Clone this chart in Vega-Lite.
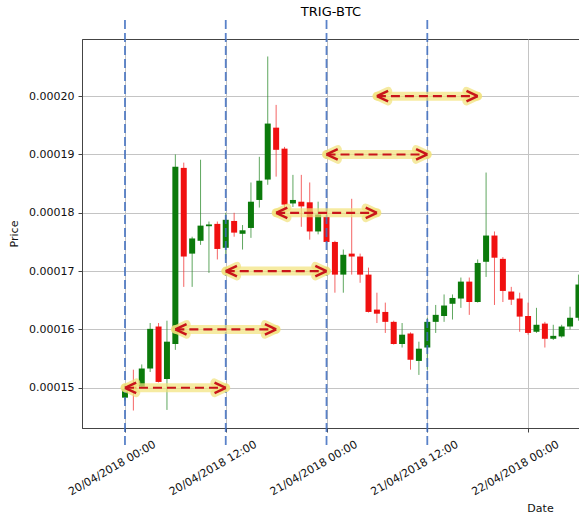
{
  "$schema": "https://vega.github.io/schema/vega-lite/v6.json",
  "width": 498,
  "height": 389,
  "autosize": "none",
  "padding": {"left": 82, "top": 39, "right": -1, "bottom": 89},
  "background": "white",
  "title": {"text": "TRIG-BTC", "fontSize": 13, "fontWeight": "normal", "font": "DejaVu Sans", "color": "#000000", "offset": 0, "anchor": "middle", "frame": "group"},
  "config": {
    "view": {"stroke": "#444444", "strokeWidth": 1},
    "font": "DejaVu Sans",
    "axis": {
      "labelFont": "DejaVu Sans", "titleFont": "DejaVu Sans",
      "labelFontSize": 11, "titleFontSize": 11, "titleFontWeight": "normal",
      "labelColor": "#111111", "titleColor": "#111111",
      "domainColor": "#444444", "tickColor": "#444444", "tickSize": 4,
      "gridColor": "#c4c4c4", "gridWidth": 1
    }
  },
  "datasets": {
    "candles": [
      {"t": "2018-04-20 00:00", "open": 0.0001483, "high": 0.0001500, "low": 0.0001478, "close": 0.0001498},
      {"t": "2018-04-20 01:00", "open": 0.0001502, "high": 0.0001531, "low": 0.0001461, "close": 0.0001498},
      {"t": "2018-04-20 02:00", "open": 0.0001502, "high": 0.0001540, "low": 0.0001500, "close": 0.0001533},
      {"t": "2018-04-20 03:00", "open": 0.0001533, "high": 0.0001611, "low": 0.0001527, "close": 0.0001601},
      {"t": "2018-04-20 04:00", "open": 0.0001605, "high": 0.0001611, "low": 0.0001509, "close": 0.0001510},
      {"t": "2018-04-20 05:00", "open": 0.0001515, "high": 0.0001615, "low": 0.0001462, "close": 0.0001579},
      {"t": "2018-04-20 06:00", "open": 0.0001575, "high": 0.0001900, "low": 0.0001565, "close": 0.0001879},
      {"t": "2018-04-20 07:00", "open": 0.0001877, "high": 0.0001886, "low": 0.0001673, "close": 0.0001725},
      {"t": "2018-04-20 08:00", "open": 0.0001730, "high": 0.0001759, "low": 0.0001673, "close": 0.0001756},
      {"t": "2018-04-20 09:00", "open": 0.0001752, "high": 0.0001891, "low": 0.0001745, "close": 0.0001778},
      {"t": "2018-04-20 10:00", "open": 0.0001777, "high": 0.0001785, "low": 0.0001697, "close": 0.0001780},
      {"t": "2018-04-20 11:00", "open": 0.0001781, "high": 0.0001785, "low": 0.0001720, "close": 0.0001738},
      {"t": "2018-04-20 12:00", "open": 0.0001740, "high": 0.0001800, "low": 0.0001720, "close": 0.0001788},
      {"t": "2018-04-20 13:00", "open": 0.0001786, "high": 0.0001800, "low": 0.0001759, "close": 0.0001766},
      {"t": "2018-04-20 14:00", "open": 0.0001764, "high": 0.0001779, "low": 0.0001737, "close": 0.0001770},
      {"t": "2018-04-20 15:00", "open": 0.0001774, "high": 0.0001852, "low": 0.0001757, "close": 0.0001819},
      {"t": "2018-04-20 16:00", "open": 0.0001822, "high": 0.0001896, "low": 0.0001809, "close": 0.0001855},
      {"t": "2018-04-20 17:00", "open": 0.0001857, "high": 0.0002068, "low": 0.0001848, "close": 0.0001953},
      {"t": "2018-04-20 18:00", "open": 0.0001946, "high": 0.0001985, "low": 0.0001862, "close": 0.0001908},
      {"t": "2018-04-20 19:00", "open": 0.0001910, "high": 0.0001913, "low": 0.0001806, "close": 0.0001814},
      {"t": "2018-04-20 20:00", "open": 0.0001816, "high": 0.0001865, "low": 0.0001810, "close": 0.0001822},
      {"t": "2018-04-20 21:00", "open": 0.0001819, "high": 0.0001865, "low": 0.0001776, "close": 0.0001811},
      {"t": "2018-04-20 22:00", "open": 0.0001818, "high": 0.0001852, "low": 0.0001754, "close": 0.0001768},
      {"t": "2018-04-20 23:00", "open": 0.0001768, "high": 0.0001819, "low": 0.0001763, "close": 0.0001797},
      {"t": "2018-04-21 00:00", "open": 0.0001793, "high": 0.0001805, "low": 0.0001749, "close": 0.0001750},
      {"t": "2018-04-21 01:00", "open": 0.0001750, "high": 0.0001752, "low": 0.0001663, "close": 0.0001694},
      {"t": "2018-04-21 02:00", "open": 0.0001694, "high": 0.0001737, "low": 0.0001663, "close": 0.0001728},
      {"t": "2018-04-21 03:00", "open": 0.0001730, "high": 0.0001824, "low": 0.0001694, "close": 0.0001725},
      {"t": "2018-04-21 04:00", "open": 0.0001725, "high": 0.0001730, "low": 0.0001680, "close": 0.0001694},
      {"t": "2018-04-21 05:00", "open": 0.0001694, "high": 0.0001706, "low": 0.0001629, "close": 0.0001630},
      {"t": "2018-04-21 06:00", "open": 0.0001634, "high": 0.0001663, "low": 0.0001611, "close": 0.0001627},
      {"t": "2018-04-21 07:00", "open": 0.0001630, "high": 0.0001646, "low": 0.0001594, "close": 0.0001613},
      {"t": "2018-04-21 08:00", "open": 0.0001613, "high": 0.0001615, "low": 0.0001574, "close": 0.0001575},
      {"t": "2018-04-21 09:00", "open": 0.0001575, "high": 0.0001611, "low": 0.0001569, "close": 0.0001591},
      {"t": "2018-04-21 10:00", "open": 0.0001593, "high": 0.0001595, "low": 0.0001531, "close": 0.0001548},
      {"t": "2018-04-21 11:00", "open": 0.0001546, "high": 0.0001579, "low": 0.0001522, "close": 0.0001567},
      {"t": "2018-04-21 12:00", "open": 0.0001569, "high": 0.0001620, "low": 0.0001531, "close": 0.0001613},
      {"t": "2018-04-21 13:00", "open": 0.0001613, "high": 0.0001642, "low": 0.0001594, "close": 0.0001625},
      {"t": "2018-04-21 14:00", "open": 0.0001623, "high": 0.0001660, "low": 0.0001613, "close": 0.0001641},
      {"t": "2018-04-21 15:00", "open": 0.0001644, "high": 0.0001660, "low": 0.0001617, "close": 0.0001654},
      {"t": "2018-04-21 16:00", "open": 0.0001653, "high": 0.0001689, "low": 0.0001637, "close": 0.0001682},
      {"t": "2018-04-21 17:00", "open": 0.0001682, "high": 0.0001689, "low": 0.0001625, "close": 0.0001647},
      {"t": "2018-04-21 18:00", "open": 0.0001647, "high": 0.0001720, "low": 0.0001646, "close": 0.0001714},
      {"t": "2018-04-21 19:00", "open": 0.0001716, "high": 0.0001869, "low": 0.0001690, "close": 0.0001761},
      {"t": "2018-04-21 20:00", "open": 0.0001761, "high": 0.0001768, "low": 0.0001642, "close": 0.0001723},
      {"t": "2018-04-21 21:00", "open": 0.0001721, "high": 0.0001724, "low": 0.0001647, "close": 0.0001666},
      {"t": "2018-04-21 22:00", "open": 0.0001665, "high": 0.0001673, "low": 0.0001642, "close": 0.0001651},
      {"t": "2018-04-21 23:00", "open": 0.0001653, "high": 0.0001663, "low": 0.0001596, "close": 0.0001622},
      {"t": "2018-04-22 00:00", "open": 0.0001623, "high": 0.0001646, "low": 0.0001591, "close": 0.0001594},
      {"t": "2018-04-22 01:00", "open": 0.0001596, "high": 0.0001637, "low": 0.0001594, "close": 0.0001608},
      {"t": "2018-04-22 02:00", "open": 0.0001610, "high": 0.0001613, "low": 0.0001569, "close": 0.0001584},
      {"t": "2018-04-22 03:00", "open": 0.0001584, "high": 0.0001608, "low": 0.0001582, "close": 0.0001589},
      {"t": "2018-04-22 04:00", "open": 0.0001588, "high": 0.0001608, "low": 0.0001586, "close": 0.0001605},
      {"t": "2018-04-22 05:00", "open": 0.0001605, "high": 0.0001639, "low": 0.0001600, "close": 0.0001620},
      {"t": "2018-04-22 06:00", "open": 0.0001620, "high": 0.0001694, "low": 0.0001615, "close": 0.0001677}
    ],
    "vlines": [
      {"t": "2018-04-20 00:00"},
      {"t": "2018-04-20 12:00"},
      {"t": "2018-04-21 00:00"},
      {"t": "2018-04-21 12:00"}
    ],
    "arrows": [
      {"start": "2018-04-20 00:00", "end": "2018-04-20 12:00", "price": 0.00015},
      {"start": "2018-04-20 06:00", "end": "2018-04-20 18:00", "price": 0.00016},
      {"start": "2018-04-20 12:00", "end": "2018-04-21 00:00", "price": 0.00017},
      {"start": "2018-04-20 18:00", "end": "2018-04-21 06:00", "price": 0.00018},
      {"start": "2018-04-21 00:00", "end": "2018-04-21 12:00", "price": 0.00019},
      {"start": "2018-04-21 06:00", "end": "2018-04-21 18:00", "price": 0.00020}
    ]
  },
  "encoding": {
    "x": {
      "field": "t", "type": "temporal",
      "scale": {"domain": [{"year": 2018, "month": 4, "date": 19, "hours": 18, "minutes": 53}, {"year": 2018, "month": 4, "date": 22, "hours": 6, "minutes": 11}], "padding": 0},
      "axis": {
        "title": "Date",
        "values": [
          {"year": 2018, "month": 4, "date": 20, "hours": 0},
          {"year": 2018, "month": 4, "date": 20, "hours": 12},
          {"year": 2018, "month": 4, "date": 21, "hours": 0},
          {"year": 2018, "month": 4, "date": 21, "hours": 12},
          {"year": 2018, "month": 4, "date": 22, "hours": 0}
        ],
        "format": "%d/%m/%Y %H:%M",
        "labelAngle": -30, "labelAlign": "center", "labelBaseline": "middle",
        "labelOffset": -13, "labelPadding": 36, "labelFlush": false, "labelOverlap": false,
        "titleX": 458, "titleY": 80, "titleAlign": "center", "titleBaseline": "middle"
      }
    },
    "y": {
      "field": "low", "type": "quantitative",
      "scale": {"domain": [0.0001431, 0.0002098], "nice": false, "zero": false, "padding": 0},
      "axis": {
        "title": "Price",
        "values": [0.00015, 0.00016, 0.00017, 0.00018, 0.00019, 0.0002],
        "format": ".5f", "labelPadding": 4, "titlePadding": 9
      }
    }
  },
  "layer": [
    {
      "data": {"name": "candles"},
      "mark": {"type": "rule", "strokeWidth": 1, "opacity": 0.75, "clip": true},
      "encoding": {
        "y2": {"field": "high"},
        "color": {"condition": {"test": "datum.open < datum.close", "value": "#2a8a2a"}, "value": "#f03030"}
      }
    },
    {
      "data": {"name": "candles"},
      "mark": {"type": "bar", "size": 6, "clip": true},
      "encoding": {
        "y": {"field": "open", "type": "quantitative"},
        "y2": {"field": "close"},
        "color": {"condition": {"test": "datum.open < datum.close", "value": "#0b7a0b"}, "value": "#f01010"}
      }
    },
    {
      "data": {"name": "vlines"},
      "mark": {"type": "tick", "orient": "vertical", "size": 427, "thickness": 0, "filled": false, "color": "#3d6cc0", "strokeWidth": 1.8, "strokeDash": [9, 4], "opacity": 0.85},
      "encoding": {"y": null}
    },
    {
      "data": {"name": "arrows"},
      "mark": {"type": "rule", "color": "#f2e27a", "strokeWidth": 9, "opacity": 0.7, "strokeCap": "round"},
      "encoding": {
        "x": {"field": "start", "type": "temporal"},
        "x2": {"field": "end"},
        "y": {"field": "price", "type": "quantitative"}
      }
    },
    {
      "data": {"name": "arrows"},
      "mark": {"type": "point", "shape": "M 0 0 L 1.6 -0.75 M 0 0 L 1.6 0.75", "size": 196, "filled": false, "stroke": "#f2e27a", "strokeWidth": 8, "opacity": 0.7, "strokeCap": "round", "strokeJoin": "round"},
      "encoding": {
        "x": {"field": "start", "type": "temporal"},
        "y": {"field": "price", "type": "quantitative"}
      }
    },
    {
      "data": {"name": "arrows"},
      "mark": {"type": "point", "shape": "M 0 0 L -1.6 -0.75 M 0 0 L -1.6 0.75", "size": 196, "filled": false, "stroke": "#f2e27a", "strokeWidth": 8, "opacity": 0.7, "strokeCap": "round", "strokeJoin": "round"},
      "encoding": {
        "x": {"field": "end", "type": "temporal"},
        "y": {"field": "price", "type": "quantitative"}
      }
    },
    {
      "data": {"name": "arrows"},
      "mark": {"type": "rule", "color": "#c8141a", "strokeWidth": 2.2, "strokeDash": [9, 5]},
      "encoding": {
        "x": {"field": "start", "type": "temporal"},
        "x2": {"field": "end"},
        "y": {"field": "price", "type": "quantitative"}
      }
    },
    {
      "data": {"name": "arrows"},
      "mark": {"type": "point", "shape": "M 0 0 L 1.6 -0.75 M 0 0 L 1.6 0.75", "size": 196, "filled": false, "stroke": "#c8141a", "strokeWidth": 2.5, "opacity": 1},
      "encoding": {
        "x": {"field": "start", "type": "temporal"},
        "y": {"field": "price", "type": "quantitative"}
      }
    },
    {
      "data": {"name": "arrows"},
      "mark": {"type": "point", "shape": "M 0 0 L -1.6 -0.75 M 0 0 L -1.6 0.75", "size": 196, "filled": false, "stroke": "#c8141a", "strokeWidth": 2.5, "opacity": 1},
      "encoding": {
        "x": {"field": "end", "type": "temporal"},
        "y": {"field": "price", "type": "quantitative"}
      }
    }
  ]
}
